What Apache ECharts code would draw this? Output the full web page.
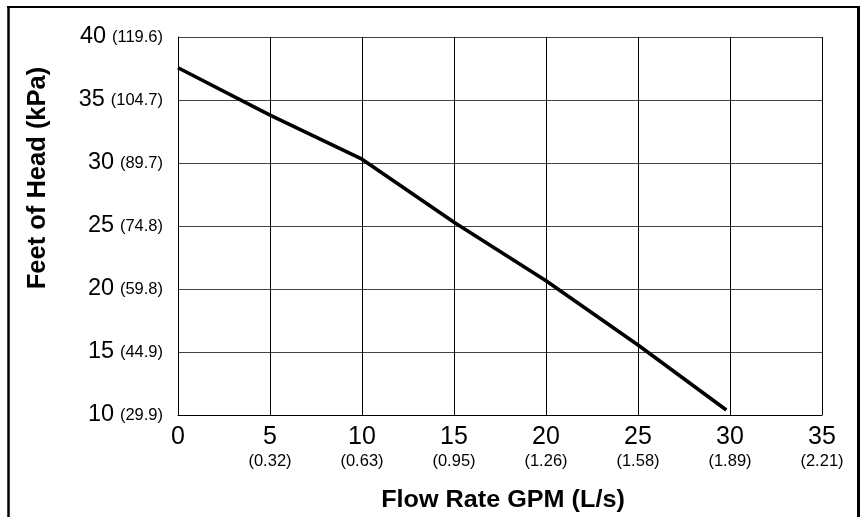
<!DOCTYPE html>
<html>
<head>
<meta charset="utf-8">
<script src="https://cdn.jsdelivr.net/npm/echarts@6/dist/echarts.min.js"></script>
<style>
html,body{margin:0;padding:0;background:#fff;}
#chart{width:863px;height:517px;}
</style>
</head>
<body>
<div id="chart"></div>
<script>
// Data
const flowGpm = [0, 5, 10, 15, 20, 25, 29.8];
const headFt = [37.56, 33.8, 30.3, 25.3, 20.66, 15.56, 10.4];
const xTickValues = [0, 5, 10, 15, 20, 25, 30, 35];
const xTickLps = ['', '(0.32)', '(0.63)', '(0.95)', '(1.26)', '(1.58)', '(1.89)', '(2.21)'];
const yTickValues = [10, 15, 20, 25, 30, 35, 40];
const yTickKpa = ['(29.9)', '(44.9)', '(59.8)', '(74.8)', '(89.7)', '(104.7)', '(119.6)'];
const xTitle = 'Flow Rate GPM (L/s)';
const yTitle = 'Feet of Head (kPa)';

const FONT = "'Liberation Sans', Arial, Helvetica, sans-serif";
const chart = echarts.init(document.getElementById('chart'), null, {renderer: 'canvas'});

const option = {
  backgroundColor: '#fff',
  animation: false,
  grid: {left: 178, top: 37, width: 644, height: 378, containLabel: false},
  xAxis: {
    type: 'value', min: 0, max: 35, interval: 5,
    axisLine: {show: true, lineStyle: {color: '#000', width: 1}},
    axisTick: {show: false},
    splitLine: {show: true, lineStyle: {color: '#000', width: 1}},
    axisLabel: {
      margin: 8,
      formatter: function (v) {
        const i = xTickValues.indexOf(v);
        const sub = i >= 0 ? xTickLps[i] : '';
        return sub ? '{a|' + v + '}\n{b|' + sub + '}' : '{a|' + v + '}';
      },
      rich: {
        a: {fontFamily: FONT, fontSize: 25, color: '#000', lineHeight: 28, align: 'center'},
        b: {fontFamily: FONT, fontSize: 16.5, color: '#000', lineHeight: 20, align: 'center'}
      }
    }
  },
  yAxis: {
    type: 'value', min: 10, max: 40, interval: 5,
    axisLine: {show: true, lineStyle: {color: '#000', width: 1}},
    axisTick: {show: false},
    splitLine: {show: true, lineStyle: {color: '#444', width: 1}},
    axisLabel: {
      margin: 15,
      formatter: function (v) {
        const i = yTickValues.indexOf(v);
        return '{a|' + v + '}{s| }{b|' + (i >= 0 ? yTickKpa[i] : '') + '}';
      },
      rich: {
        a: {fontFamily: FONT, fontSize: 23.5, color: '#000', verticalAlign: 'middle'},
        s: {fontFamily: FONT, fontSize: 21, color: '#000', verticalAlign: 'middle'},
        b: {fontFamily: FONT, fontSize: 16.5, color: '#000', verticalAlign: 'middle'}
      }
    }
  },
  series: [{
    type: 'line',
    data: flowGpm.map((x, i) => [x, headFt[i]]),
    showSymbol: false,
    symbol: 'none',
    lineStyle: {color: '#000', width: 3.6},
    z: 5
  }],
  graphic: [
    {type: 'text', x: 503, y: 500, style: {text: xTitle, font: 'bold 24px ' + FONT, fill: '#000', align: 'center', verticalAlign: 'middle'}, scaleX: 1.05},
    {type: 'text', x: 38, y: 178, rotation: Math.PI / 2, scaleX: 1.02, style: {text: yTitle, font: 'bold 25px ' + FONT, fill: '#000', align: 'center', verticalAlign: 'middle'}},
    {type: 'line', shape: {x1: 7, y1: 7, x2: 859, y2: 7}, style: {stroke: '#000', lineWidth: 2}},
    {type: 'line', shape: {x1: 8.5, y1: 6, x2: 8.5, y2: 530}, style: {stroke: '#000', lineWidth: 2.5}},
    {type: 'line', shape: {x1: 858.5, y1: 6, x2: 858.5, y2: 530}, style: {stroke: '#000', lineWidth: 3}}
  ]
};
chart.setOption(option);
</script>
</body>
</html>
